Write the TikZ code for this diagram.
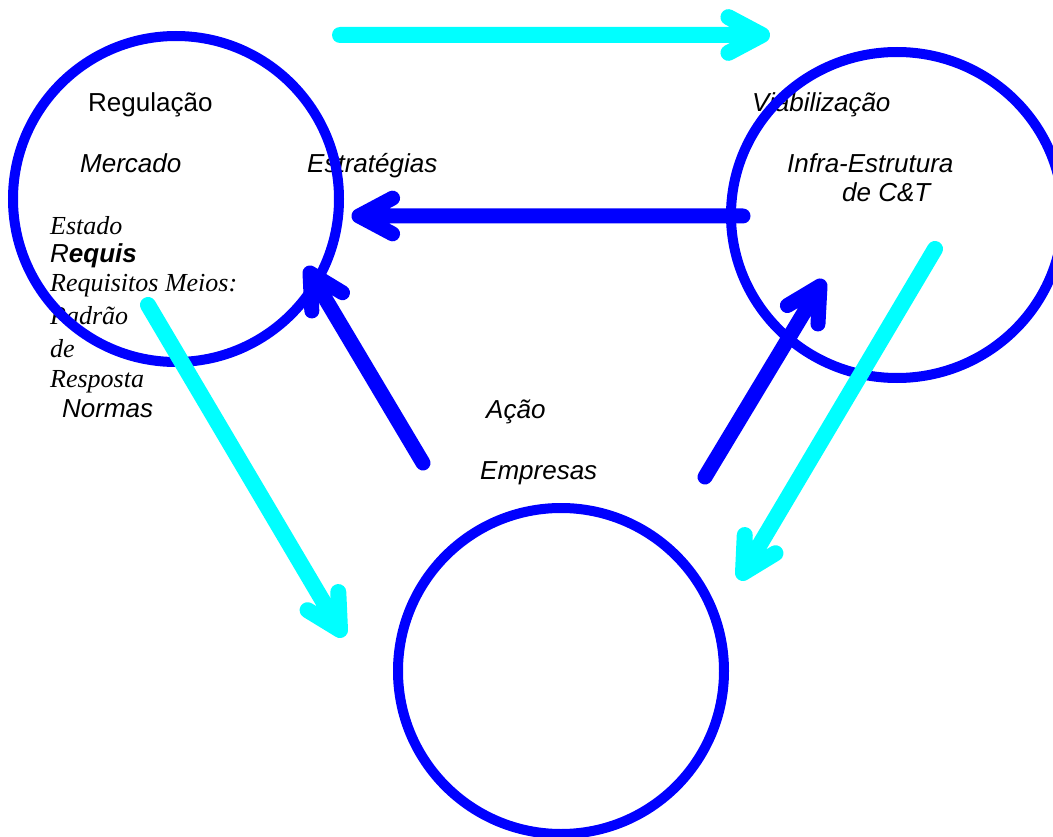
\documentclass[tikz,border=0pt]{standalone}
\usepackage{fontspec}
\setmainfont{Liberation Sans}
\newfontfamily\timesf{Liberation Serif}
\usetikzlibrary{calc}
\definecolor{cblue}{RGB}{0,0,255}
\definecolor{ccyan}{RGB}{0,255,255}
\tikzset{
  ring/.style={draw=cblue, line width=10pt, circle, inner sep=0pt, minimum size=326pt},
  lab/.style={anchor=base west, inner sep=0pt, font=\fontsize{26}{30}\selectfont},
  slab/.style={lab, font=\fontsize{26}{30}\selectfont\itshape},
  tlab/.style={lab, font=\fontsize{26}{30}\selectfont\timesf\itshape},
  bluearrow/.style={draw=cblue, line width=15pt, line cap=round, line join=round},
  cyanarrow/.style={draw=ccyan, line width=16pt, line cap=round, line join=round},
}
\newcommand\myarrow[3]{\draw[#1] (#2) -- (#3) -- ($(#3)!38pt!28:(#2)$) (#3) -- ($(#3)!38pt!-28:(#2)$);}
\begin{document}
\begin{tikzpicture}[x=1pt,y=-1pt]
\useasboundingbox (0,0) rectangle (1053,837);
% texts
\node[lab] (reg) at (88,112) {Regulação};
\node[slab] (merc) at (80,173) {Mercado};
\node[slab] (estr) at (307,173) {Estratégias};
\node[slab] (viab) at (752,112) {Viabilização};
\node[slab] (infra) at (787,173) {Infra-Estrutura};
\node[slab] (dect) at (842,202) {de C\&T};
\node[tlab] (estado) at (50,235) {Estado};
\node[lab] (requis) at (50,263) {\itshape R\bfseries equis};
\node[tlab] (reqm) at (50,292) {Requisitos Meios:};
\node[tlab] (padrao) at (50,325) {Padrão};
\node[tlab] (de) at (50,357) {de};
\node[tlab] (resp) at (50,387) {Resposta};
\node[slab] (normas) at (62,417) {Normas};
\node[slab] (acao) at (486,418) {Ação};
\node[slab] (empr) at (480,479) {Empresas};
% circles
\node[ring] (left) at (176,199) {};
\node[ring] (bottom) at (561,671) {};
\draw[cblue, line width=10pt] (897,215) ellipse [x radius=166, y radius=163];
\coordinate (right) at (897,215);
% arrow end points
\coordinate (a1) at (340,35);  \coordinate (b1) at (762,35);
\coordinate (a2) at (743,216); \coordinate (b2) at (359,216);
\coordinate (a3) at (423,463); \coordinate (b3) at (310,273);
\coordinate (a4) at (705,477); \coordinate (b4) at (820,286);
\coordinate (a5) at (148,305); \coordinate (b5) at (340,630);
\coordinate (a6) at (935,249); \coordinate (b6) at (743,573);
% arrows
\myarrow{cyanarrow}{a1}{b1}
\myarrow{bluearrow}{a2}{b2}
\myarrow{bluearrow}{a3}{b3}
\myarrow{bluearrow}{a4}{b4}
\myarrow{cyanarrow}{a5}{b5}
\myarrow{cyanarrow}{a6}{b6}
\end{tikzpicture}
\end{document}
